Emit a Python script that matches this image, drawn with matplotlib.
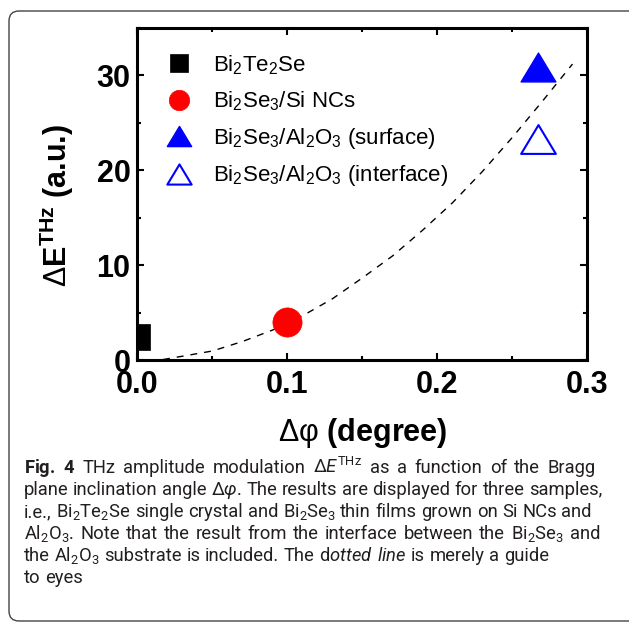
import matplotlib
matplotlib.use("Agg")
import matplotlib.pyplot as plt
from matplotlib.patches import FancyBboxPatch
from matplotlib.transforms import IdentityTransform
from matplotlib.ticker import MultipleLocator, FormatStrFormatter
from matplotlib.path import Path

CAP_FONT = 'Roboto'
CAP_COLOR = '#231f20'
W, H = 629, 624

plt.rcParams['font.family'] = ['Liberation Sans', 'DejaVu Sans']
plt.rcParams['mathtext.fontset'] = 'custom'
plt.rcParams['mathtext.rm'] = 'Liberation Sans'
plt.rcParams['mathtext.it'] = CAP_FONT + ':italic'
plt.rcParams['mathtext.bf'] = CAP_FONT + ':bold'
plt.rcParams['mathtext.default'] = 'regular'

# data
bts_x = [0.0]
bts_y = [2.5]
si_x = [0.1]
si_y = [4.0]
surf_x = [0.267]
surf_y = [30.9]
intf_x = [0.267]
intf_y = [23.3]

guide_x = [0.017, 0.03, 0.05, 0.07, 0.09, 0.11, 0.13, 0.15, 0.17, 0.19, 0.21, 0.23, 0.25, 0.27, 0.29]
guide_y = [0.1, 0.45, 1.0, 2.0, 3.2, 4.7, 6.5, 8.7, 11.0, 13.7, 16.6, 19.9, 23.5, 27.3, 31.2]

labels = ["Bi$_2$Te$_2$Se", "Bi$_2$Se$_3$/Si NCs",
          "Bi$_2$Se$_3$/Al$_2$O$_3$ (surface)", "Bi$_2$Se$_3$/Al$_2$O$_3$ (interface)"]

caption = [
    r"$\mathbf{Fig.}$ $\mathbf{4}$ THz amplitude modulation $\Delta\mathit{E}^{THz}$ as a function of the Bragg",
    r"plane inclination angle $\Delta\mathit{\varphi}$. The results are displayed for three samples,",
    r"i.e., Bi$_2$Te$_2$Se single crystal and Bi$_2$Se$_3$ thin films grown on Si NCs and",
    r"Al$_2$O$_3$. Note that the result from the interface between the Bi$_2$Se$_3$ and",
    r"the Al$_2$O$_3$ substrate is included. The d$\mathit{otted}$ $\mathit{line}$ is merely a guide",
    "to eyes",
]
# caption layout (pixels): justified block
cap_left = 24
cap_right = [596, 602, 592, 600, 557, None]
cap_justify = [True, True, True, True, False, False]
cap_base = [473, 495, 517, 539, 561, 583]

# wide triangle marker (closed so the open one gets all three edges)
tri = Path([(0, 0.83), (-1, -0.83), (1, -0.83), (0, 0.83)], closed=True)

fig = plt.figure(figsize=(W / 100, H / 100), dpi=100)
ax = fig.add_axes([0.2186, 0.4223, 0.7154, 0.5329])

ax.plot(guide_x, guide_y, color='black', lw=1.0, ls=(0, (5, 5)))
ax.plot(bts_x, bts_y, ls='none', marker='s', ms=19, mfc='black', mec='black', mew=0.5, label=labels[0])
ax.plot(si_x, si_y, ls='none', marker='o', ms=21, mfc='red', mec='red', mew=0.5, label=labels[1])
ax.plot(surf_x, surf_y, ls='none', marker=tri, ms=25, mfc='blue', mec='blue', mew=1, label=labels[2])
ax.plot(intf_x, intf_y, ls='none', marker=tri, ms=25, mfc='none', mec='blue', mew=1.5, label=labels[3])

ax.set_xlim(0, 0.3)
ax.set_ylim(0, 35)
ax.xaxis.set_major_locator(MultipleLocator(0.1))
ax.xaxis.set_minor_locator(MultipleLocator(0.05))
ax.xaxis.set_major_formatter(FormatStrFormatter('%.1f'))
ax.yaxis.set_major_locator(MultipleLocator(10))
ax.yaxis.set_minor_locator(MultipleLocator(5))
ax.tick_params(which='both', direction='in', top=True, right=True, width=1.5)
ax.tick_params(which='major', length=5)
ax.tick_params(which='minor', length=3)
ax.tick_params(axis='x', pad=7)
ax.tick_params(axis='y', pad=5)
for lab in ax.get_xticklabels() + ax.get_yticklabels():
    lab.set_fontsize(22)
    lab.set_fontweight('bold')
for sp in ax.spines.values():
    sp.set_linewidth(2.2)

ax.set_xlabel(r"$\mathrm{\Delta\varphi}$ (degree)", fontsize=22, fontweight='bold')
ax.xaxis.set_label_coords(0.5, -0.168)
ax.set_ylabel(r"$\mathrm{\Delta}$E$^{THz}$ (a.u.)", fontsize=22, fontweight='bold')
ax.yaxis.set_label_coords(-0.137, 0.465)

ax.legend(loc='upper left', bbox_to_anchor=(0.0678, 0.924), frameon=False, fontsize=16,
          markerscale=0.7, handlelength=1.0, handletextpad=1.04, labelspacing=0.57,
          borderpad=0, borderaxespad=0)

# caption, laid out word by word so the full lines are justified
rend = fig.canvas.get_renderer()

def text_w(s, size):
    t = fig.text(0, 0, s, fontsize=size, family=CAP_FONT)
    w = t.get_window_extent(renderer=rend).width
    t.remove()
    return w

# biggest size at which every justified line still fits its width
size = min(13 * (cap_right[i] - cap_left) / text_w(caption[i], 13) for i in range(4))
space = text_w("a a", size) - text_w("aa", size)

for line, right, just, yb in zip(caption, cap_right, cap_justify, cap_base):
    words = line.split(' ')
    widths = [text_w(w, size) for w in words]
    if just and len(words) > 1:
        gap = (right - cap_left - sum(widths)) / (len(words) - 1)
    else:
        gap = space
    x = cap_left
    for w, wd in zip(words, widths):
        fig.text(x / W, 1 - yb / H, w, fontsize=size, family=CAP_FONT, color=CAP_COLOR,
                 va='baseline', ha='left')
        x += wd + gap

box = FancyBboxPatch((9, 3), 650, 610, boxstyle='round,pad=0,rounding_size=10',
                     transform=IdentityTransform(), fill=False, lw=1.0, ec='#444444')
fig.add_artist(box)

fig.savefig("out.png", dpi=100)
